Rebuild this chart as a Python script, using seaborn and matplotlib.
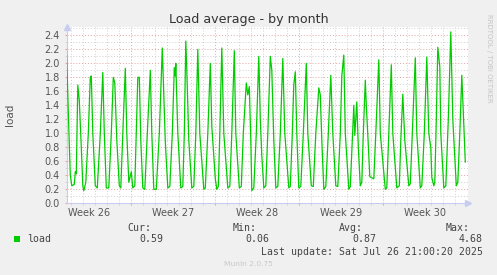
import matplotlib
matplotlib.use("Agg")
import matplotlib.pyplot as plt
import matplotlib.transforms as mtransforms
from matplotlib.patches import Rectangle
from matplotlib.ticker import MultipleLocator, FixedLocator, NullFormatter
import seaborn as sns
import pandas as pd

# ---- data (hours since Mon Jun 23 13:00, load average) ----
hours = [1, 5, 9, 12, 17, 19, 21, 24, 27, 31, 34, 36, 40, 45, 49, 51, 54, 59, 63, 69,
         74, 77, 81, 86, 91, 95, 98, 102, 107, 110, 114, 119, 122, 126, 131, 134, 138, 141, 144, 147,
         150, 154, 158, 163, 169, 172, 176, 181, 187, 193, 199, 204, 208, 213, 217, 219, 220, 224, 230, 234,
         237, 240, 242, 246, 252, 256, 260, 264, 268, 276, 279, 284, 289, 292, 299, 302, 305, 308, 312, 316,
         324, 328, 332, 337, 340, 347, 351, 355, 361, 364, 367, 370, 372, 376, 381, 386, 389, 392, 396, 400,
         404, 409, 412, 416, 420, 424, 429, 434, 438, 446, 449, 453, 456, 459, 462, 466, 470, 475, 481, 484,
         491, 495, 500, 506, 509, 512, 516, 520, 525, 530, 534, 540, 544, 549, 552, 556, 559, 566, 569, 573,
         576, 578, 582, 585, 589, 592, 595, 599, 601, 604, 608, 616, 620, 626, 629, 639, 642, 646, 651, 654,
         662, 667, 670, 674, 678, 686, 689, 693, 699, 702, 709, 712, 717, 722, 726, 730, 732, 736, 738, 741,
         744, 748, 750, 756, 760, 765, 770, 774, 781, 784, 788, 792, 795, 799]
load = [2.28, 1.30, 0.40, 0.25, 0.27, 0.45, 0.42, 1.69, 1.47, 0.80, 0.25, 0.18, 0.30, 1.00, 1.80, 1.82, 1.00, 0.25, 0.22, 1.00,
        1.87, 1.00, 0.22, 0.22, 1.00, 1.80, 1.72, 0.90, 0.25, 0.22, 1.00, 1.93, 1.00, 0.30, 0.45, 0.22, 0.25, 1.00, 1.80, 1.80,
        0.90, 0.22, 0.20, 1.00, 1.90, 1.00, 0.20, 0.20, 1.00, 2.22, 0.88, 0.22, 0.24, 1.00, 1.94, 1.82, 2.00, 1.00, 0.22, 0.24,
        1.00, 2.32, 1.90, 0.90, 0.22, 0.24, 1.00, 2.20, 1.00, 0.20, 0.22, 1.00, 2.00, 1.10, 0.35, 0.20, 0.24, 1.00, 2.22, 1.00,
        0.22, 0.24, 1.00, 2.18, 1.00, 0.22, 0.24, 1.00, 1.72, 1.55, 1.67, 0.90, 0.18, 0.22, 1.00, 2.10, 1.20, 0.68, 0.22, 0.25,
        1.00, 2.10, 1.90, 0.90, 0.22, 0.24, 1.00, 2.07, 1.00, 0.22, 0.24, 1.00, 1.70, 1.88, 1.00, 0.22, 0.24, 1.00, 2.00, 1.00,
        0.25, 0.24, 1.00, 1.65, 1.55, 0.90, 0.20, 0.24, 1.00, 1.83, 1.00, 0.25, 0.24, 1.00, 1.82, 2.12, 1.00, 0.20, 0.24, 0.90,
        1.40, 0.97, 1.45, 0.80, 0.25, 0.30, 1.00, 1.76, 1.40, 0.98, 0.38, 0.35, 1.00, 2.05, 1.00, 0.20, 0.22, 1.00, 1.98, 1.00,
        0.22, 0.25, 0.90, 1.56, 0.90, 0.25, 0.28, 1.00, 2.08, 1.00, 0.22, 0.25, 1.00, 2.09, 1.00, 0.79, 0.37, 0.25, 0.30, 1.20,
        2.23, 1.95, 1.00, 0.22, 0.25, 1.20, 2.45, 1.20, 0.25, 0.30, 1.00, 1.83, 1.30, 0.59]

week_labels = ["Week 26", "Week 27", "Week 28", "Week 29", "Week 30"]
week_label_hours = [47, 215, 383, 551, 719]
week_start_hours = [131, 299, 467, 635]
day_start_hours = list(range(11, 800, 24))
y_ticks = [0.0, 0.2, 0.4, 0.6, 0.8, 1.0, 1.2, 1.4, 1.6, 1.8, 2.0, 2.2, 2.4]

series_name = "load"
stat_names = ["Cur:", "Min:", "Avg:", "Max:"]
stat_values = ["0.59", "0.06", "0.87", "4.68"]
title = "Load average - by month"
last_update = "Last update: Sat Jul 26 21:00:20 2025"
footer = "Munin 2.0.75"
side_text = "RRDTOOL / TOBI OETIKER"

# ---- styling ----
W, H = 497, 275
BG = "#f0f0f0"
LINE = "#00cc00"
MINOR = "#cfcfcf"
MAJOR = "#e4a4a4"
AXIS = "#c8ccf0"
TXT = "#555555"

df = pd.DataFrame({"hours": hours, "load": load})

fig = plt.figure(figsize=(W / 100, H / 100), dpi=100, facecolor=BG)
ax_left, ax_right, ax_top, ax_bottom = 66.7, 468.0, 27.0, 203.3
ax = fig.add_axes([ax_left / W, 1 - ax_bottom / H, (ax_right - ax_left) / W, (ax_bottom - ax_top) / H])
ax.set_facecolor("white")

sns.lineplot(data=df, x="hours", y="load", ax=ax, color=LINE, linewidth=0.9, zorder=5)

ax.set_xlim(1.8, 804.4)
ax.set_ylim(0, 2.52)

ax.xaxis.set_major_locator(FixedLocator(week_start_hours))
ax.xaxis.set_minor_locator(FixedLocator(day_start_hours))
ax.xaxis.set_major_formatter(NullFormatter())
ax.yaxis.set_major_locator(FixedLocator(y_ticks))
ax.yaxis.set_minor_locator(MultipleLocator(0.1))
ax.set_yticklabels([f"{v:.1f}" for v in y_ticks])

dots = (0, (1, 2))
ax.grid(which="minor", color=MINOR, linestyle=dots, linewidth=0.7, zorder=1)
ax.grid(which="major", color=MAJOR, linestyle=dots, linewidth=0.7, zorder=2)
ax.set_axisbelow(True)

ax.tick_params(axis="y", which="major", length=1.8, color=MAJOR, labelsize=7, labelcolor=TXT, pad=3)
ax.tick_params(axis="y", which="minor", length=1.2, color=MINOR)
ax.tick_params(axis="x", which="major", length=1.5, color=MAJOR, direction="out")
ax.tick_params(axis="x", which="minor", length=1.2, color=MINOR, direction="out")

for s in ["top", "right"]:
    ax.spines[s].set_visible(False)
for s in ["left", "bottom"]:
    ax.spines[s].set_color(AXIS)
    ax.spines[s].set_linewidth(0.8)
ax.set_xlabel("")
ax.set_ylabel("")

# axis arrows
ax.plot([1.0], [0.0], marker=">", markersize=4, color=AXIS, transform=ax.transAxes, clip_on=False)
ax.plot([0.0], [1.0], marker="^", markersize=4, color=AXIS, transform=ax.transAxes, clip_on=False)

# week labels
blend = mtransforms.blended_transform_factory(ax.transData, fig.transFigure)
for lab, h in zip(week_labels, week_label_hours):
    ax.text(h, 1 - 212.7 / H, lab, transform=blend, ha="center", va="center",
            fontsize=7, color=TXT, family="DejaVu Sans")

def fx(x):
    return x / W

def fy(y):
    return 1 - y / H

fig.text(fx(248.5), fy(19), title, ha="center", va="center", fontsize=9.1, color="#333333")
fig.text(fx(10.5), fy(114.5), "load", rotation=90, ha="center", va="center", fontsize=7.5, color=TXT)
fig.text(fx(488.5), fy(14), side_text, rotation=270, ha="center", va="top", fontsize=5, color="#c4c4c4")

mono = dict(family="DejaVu Sans Mono", fontsize=7.1, color="#444444")
fig.add_artist(Rectangle((fx(14), fy(242)), 6 / W, 6 / H, transform=fig.transFigure,
                         facecolor=LINE, edgecolor="none"))
fig.text(fx(27), fy(239.5), series_name, ha="left", va="center", **mono)
name_right = [151, 257, 363, 470]
value_right = [163, 269, 376, 483]
for n, v, xn, xv in zip(stat_names, stat_values, name_right, value_right):
    fig.text(fx(xn), fy(227.7), n, ha="right", va="center", **mono)
    fig.text(fx(xv), fy(239.5), v, ha="right", va="center", **mono)
fig.text(fx(483), fy(251.7), last_update, ha="right", va="center", **mono)
fig.text(fx(248), fy(264), footer, ha="center", va="center", fontsize=5.4, color="#c8c8c8")

fig.savefig("out.png", dpi=100, facecolor=BG)
